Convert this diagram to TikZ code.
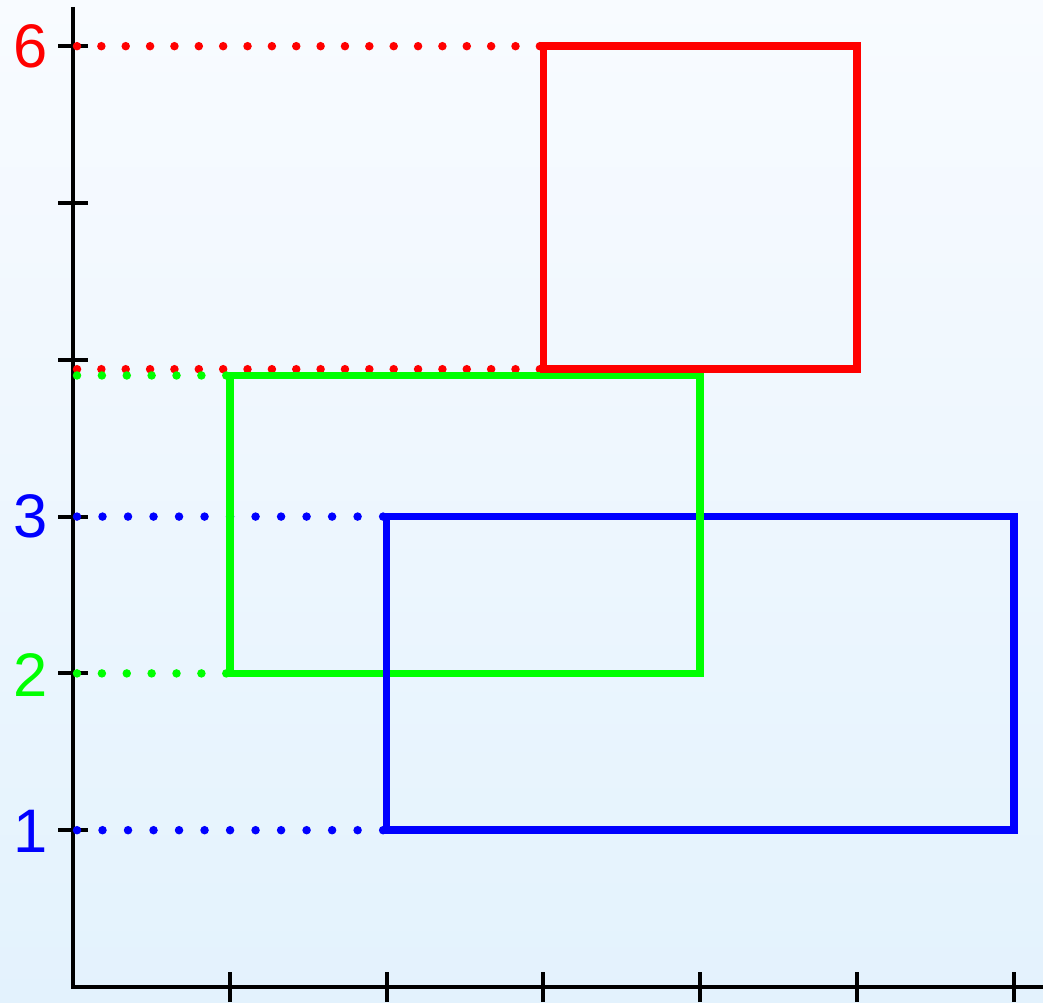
\documentclass[tikz,border=0pt]{standalone}
\usepackage{fontspec}
\setmainfont{Liberation Sans}
\definecolor{bgtop}{RGB}{248,251,255}
\definecolor{bgbot}{RGB}{227,242,253}
\begin{document}
\begin{tikzpicture}[x=1.568cm,y=1.568cm,
  axisline/.style={line width=0.04cm,black,line join=miter,line cap=butt},
  tickmark/.style={line width=0.04cm,black},
  rectline/.style={line width=0.075cm,line join=miter},
  dotline/.style={line width=0.085cm,line cap=round},
  lbl/.style={font=\fontsize{17.5pt}{17.5pt}\selectfont,inner sep=0pt,anchor=center}]
\useasboundingbox (-0.4656,-0.0957) rectangle (6.1862,6.2946);
\shade[top color=bgtop,bottom color=bgbot] (-0.4656,-0.0957) rectangle (6.1862,6.2946);
% axes
\coordinate (ytop) at (0,6.25);
\coordinate (O) at (0,0);
\coordinate (xend) at (6.25,0);
\draw[axisline] (ytop) -- (O) -- (xend);
\foreach \i in {1,...,6} {
  \draw[tickmark] (\i,-0.0957) -- (\i,0.0957);
  \draw[tickmark] (-0.0957,\i) -- (0.0957,\i);
}
% labels
\node[lbl,text=red]   (l6) at (-0.272,6) {6};
\node[lbl,text=blue]  (l3) at (-0.272,3) {3};
\node[lbl,text=green] (l2) at (-0.272,1.99) {2};
\node[lbl,text=blue]  (l1) at (-0.272,0.99) {1};
% dotted guide lines
\draw[dotline,red,dash pattern=on 0pt off 0.2436cm]   (0.0255,6)    -- (2.979,6);
\draw[dotline,red,dash pattern=on 0pt off 0.2436cm]   (0.0255,3.94) -- (2.979,3.94);
\draw[dotline,green,dash pattern=on 0pt off 0.2488cm] (0.0255,3.9)  -- (0.979,3.9);
\draw[dotline,green,dash pattern=on 0pt off 0.2488cm] (0.0255,2)    -- (0.979,2);
\draw[dotline,blue,dash pattern=on 0pt off 0.2551cm]  (0.0255,3)    -- (1.979,3);
\draw[dotline,blue,dash pattern=on 0pt off 0.2551cm]  (0.0255,1)    -- (1.979,1);
% rectangles
\draw[rectline,blue]  (2,1) rectangle (6,3);
\draw[rectline,green] (1,2) rectangle (4,3.9);
\draw[rectline,blue,line cap=butt]  (2,1.02) -- (2,2.98);
\draw[rectline,red]   (3,3.94) rectangle (5,6);
\end{tikzpicture}
\end{document}
